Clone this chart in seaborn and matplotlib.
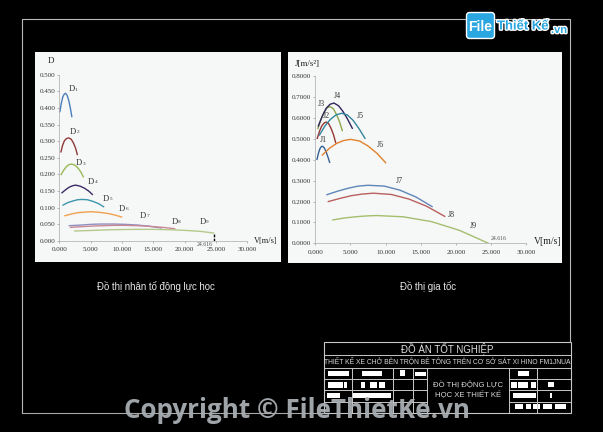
import pandas as pd
import matplotlib.pyplot as plt
import matplotlib.patheffects as pe
import seaborn as sns
from matplotlib.patches import Rectangle, FancyBboxPatch

W, H = 603, 432

# he so nhan to dong luc
d_names = ['D1', 'D2', 'D3', 'D4', 'D5', 'D6', 'D7', 'D8', 'D9']
d_v = [
    [0.10, 0.30, 0.55, 0.80, 1.00, 1.25, 1.50, 1.75, 2.00],
    [0.27, 0.50, 0.80, 1.15, 1.50, 1.90, 2.25, 2.60, 2.87],
    [0.30, 0.70, 1.15, 1.60, 2.00, 2.50, 3.00, 3.45, 3.83],
    [0.43, 1.00, 1.60, 2.10, 2.60, 3.30, 4.00, 4.70, 5.27],
    [0.60, 1.30, 2.10, 2.90, 3.60, 4.50, 5.40, 6.30, 7.07],
    [0.90, 1.90, 2.90, 4.10, 5.20, 6.50, 7.70, 8.90, 9.95],
    [1.60, 3.50, 5.00, 6.50, 8.50, 10.50, 12.50, 14.50, 16.30],
    [1.80, 3.50, 5.50, 8.60, 10.50, 12.50, 14.50, 16.50, 18.40],
    [2.45, 5.50, 8.50, 12.30, 15.00, 17.50, 20.00, 22.50, 24.62],
]
d_val = [
    [.389, .412, .433, .442, .444, .438, .423, .401, .374],
    [.268, .286, .301, .308, .310, .306, .295, .279, .260],
    [.200, .213, .224, .230, .231, .228, .219, .207, .193],
    [.145, .154, .162, .166, .168, .165, .159, .150, .140],
    [.108, .115, .120, .124, .125, .124, .119, .112, .103],
    [.076, .081, .085, .087, .088, .086, .083, .078, .072],
    [.046, .048, .050, .051, .051, .050, .048, .044, .039],
    [.041, .043, .045, .047, .047, .046, .044, .041, .037],
    [.030, .032, .034, .035, .035, .034, .032, .029, .024],
]
d_colors = ['#4A7EBB', '#8E3A38', '#98B954', '#3B2A66', '#3E96AC',
            '#F0A050', '#8F8FC0', '#C98A95', '#B5C98A']

# gia toc
j_names = ['J1', 'J2', 'J3', 'J4', 'J5', 'J6', 'J7', 'J8', 'J9']
j_v = [
    [0.24, 0.45, 0.65, 0.85, 1.04, 1.30, 1.55, 1.80, 2.04],
    [0.28, 0.60, 0.90, 1.25, 1.56, 1.90, 2.25, 2.60, 2.90],
    [0.38, 0.80, 1.25, 1.65, 2.09, 2.55, 3.00, 3.45, 3.84],
    [0.43, 1.00, 1.55, 2.10, 2.65, 3.30, 3.95, 4.60, 5.26],
    [0.60, 1.35, 2.15, 2.95, 3.74, 4.55, 5.35, 6.20, 7.06],
    [1.00, 2.00, 3.00, 4.00, 5.00, 6.30, 7.50, 8.80, 10.00],
    [1.66, 3.20, 4.70, 6.10, 7.50, 9.80, 12.00, 14.30, 16.60],
    [1.85, 3.50, 5.10, 6.70, 8.25, 10.80, 13.30, 15.80, 18.40],
    [2.50, 4.10, 5.70, 7.20, 8.70, 12.50, 16.50, 20.50, 24.62],
]
j_val = [
    [.402, .432, .453, .463, .465, .456, .437, .413, .388],
    [.503, .537, .561, .576, .581, .573, .550, .519, .482],
    [.550, .593, .628, .648, .655, .645, .618, .582, .540],
    [.562, .610, .647, .666, .672, .659, .631, .594, .551],
    [.519, .561, .594, .615, .623, .615, .590, .550, .503],
    [.423, .455, .478, .492, .498, .490, .466, .430, .386],
    [.233, .250, .264, .274, .278, .274, .255, .222, .176],
    [.200, .215, .228, .236, .240, .234, .212, .178, .129],
    [.112, .121, .127, .131, .133, .127, .104, .062, .000],
]
j_colors = ['#376092', '#943634', '#8CA64E', '#33265C', '#31859C',
            '#E0822E', '#5F86B8', '#B8605E', '#A5BE6E']

d_ticks = [0.0, 0.05, 0.1, 0.15, 0.2, 0.25, 0.3, 0.35, 0.4, 0.45, 0.5]
j_ticks = [0.0, 0.1, 0.2, 0.3, 0.4, 0.5, 0.6, 0.7, 0.8]
v_ticks = [0, 5, 10, 15, 20, 25, 30]

# nhan cua duong
d_labels = [(1.44, .456), (1.7, .329), (2.66, .235), (4.57, .178), (7.0, .127),
            (9.5, .097), (12.9, .076), (17.9, .058), (22.4, .058)]
d_subs = ['1', '2', '3', '4', '5', '6', '7', '8', '9']
j_labels = [(1.14, .497), (1.6, .612), (0.8, .669), (3.08, .707), (6.35, .612), (9.2, .473),
            (12.0, .297), (19.3, .137), (22.5, .081)]
j_texts = ['J1', 'J2', 'J3', 'J4', 'J5', 'J6', 'J7', 'J8', 'J9']

serif = 'Liberation Serif'
sans = 'Liberation Sans'


def make_long(names, vs, vals):
    rows = []
    for n, v, y in zip(names, vs, vals):
        rows.append(pd.DataFrame({'curve': n, 'V': v, 'value': y}))
    return pd.concat(rows, ignore_index=True)


def px_axes(fig, x0, x1, y_top, y_bot):
    return fig.add_axes([x0 / W, 1 - y_bot / H, (x1 - x0) / W, (y_bot - y_top) / H])


def style_axes(ax, yticks, yfmt, ymax):
    ax.set_xlim(0, 30)
    ax.set_ylim(0, ymax)
    ax.set_xticks(v_ticks)
    ax.set_xticklabels(['%.3f' % t for t in v_ticks])
    ax.set_yticks(yticks)
    ax.set_yticklabels([yfmt % t for t in yticks])
    ax.tick_params(labelsize=5, length=1.5, width=0.5, color='#999999',
                   labelcolor='#333333', pad=1.5)
    ax.tick_params(axis='x', pad=3)
    ax.set_xlabel('')
    ax.set_ylabel('')
    sns.despine(ax=ax)
    for s in ['left', 'bottom']:
        ax.spines[s].set_linewidth(0.5)
        ax.spines[s].set_color('#aaaaaa')
    ax.patch.set_alpha(0)
    for lab in ax.get_xticklabels() + ax.get_yticklabels():
        lab.set_family(serif)


plt.rcParams['font.family'] = [sans, 'DejaVu Sans']
fig = plt.figure(figsize=(W / 100, H / 100), dpi=100, facecolor='black')

# nen va khung ban ve
bg = fig.add_axes([0, 0, 1, 1])
bg.set_xlim(0, W)
bg.set_ylim(H, 0)
bg.axis('off')
bg.add_patch(Rectangle((35, 52), 246, 210, fc='#f6f7f7', ec='none'))
bg.add_patch(Rectangle((288, 52), 274, 211, fc='#f6f7f7', ec='none'))
bg.plot([22, 22, 570, 570], [413, 19, 19, 342], color='#b8b8b8', lw=0.8)
bg.plot([22, 323], [413, 413], color='#a8a8a8', lw=0.8)

# bieu do D
ax1 = px_axes(fig, 59.3, 247.3, 74.7, 241)
df_d = make_long(d_names, d_v, d_val)
sns.lineplot(data=df_d, x='V', y='value', hue='curve', palette=d_colors, estimator=None,
             sort=False, legend=False, lw=1.0, ax=ax1)
ax1.plot([24.62, 24.62], [0, 0.024], color='black', lw=1, ls=(0, (2, 1)))
style_axes(ax1, d_ticks, '%.3f', 0.5)
for (x, y), s in zip(d_labels, d_subs):
    ax1.text(x, y, 'D', fontsize=6.2, family=serif, color='#333333', va='center')
    ax1.text(x + 1.05, y - 0.002, s, fontsize=3.8, family=serif, color='#333333', va='center')
ax1.text(21.9, -0.011, '24.616', fontsize=4.2, color='#555555', family=serif, va='center')
bg.text(48, 61, 'D', fontsize=6.5, family=serif, color='#222222', ha='left', va='center')
bg.text(254, 240.5, 'V[m/s]', fontsize=6, family=serif, color='#222222', ha='left', va='center')

# bieu do J
ax2 = px_axes(fig, 315.3, 526.3, 76.3, 243.3)
df_j = make_long(j_names, j_v, j_val)
sns.lineplot(data=df_j, x='V', y='value', hue='curve', palette=j_colors, estimator=None,
             sort=False, legend=False, lw=1.0, ax=ax2)
style_axes(ax2, j_ticks, '%.4f', 0.8)
for (x, y), s in zip(j_labels, j_texts):
    ax2.text(x, y, s, fontsize=5.8, family=serif, color='#333333', va='center', ha='center')
ax2.text(24.9, 0.025, '24.616', fontsize=4.2, color='#555555', family=serif, va='center')
bg.text(295, 64, 'J[m/s²]', fontsize=6.5, family=serif, color='#222222', ha='left', va='center')
bg.text(534, 242, 'V[m/s]', fontsize=7, family=serif, color='#222222', ha='left', va='center')

# chu thich duoi
bg.text(156, 287, 'Đồ thị nhân tố động lực học', color='#e8e8e8', fontsize=6.9,
        ha='center', va='center')
bg.text(428, 287, 'Đồ thị gia tốc', color='#e8e8e8', fontsize=6.9, ha='center', va='center')

# khung ten
tb = '#c8c8c8'
bg.add_patch(Rectangle((323.5, 342), 247, 71, fc='none', ec=tb, lw=0.8))
for y in [355, 368]:
    bg.plot([323.5, 570.5], [y, y], color=tb, lw=0.7)
for y in [379, 390, 402]:
    bg.plot([323.5, 427], [y, y], color=tb, lw=0.7)
    bg.plot([509, 570.5], [y, y], color=tb, lw=0.7)
for x in [352, 393, 413, 427, 509, 537]:
    bg.plot([x, x], [368, 413], color=tb, lw=0.7)
blocks = [(328, 371, 21, 5), (362, 371, 20, 5), (400, 370, 5, 6), (415, 372, 11, 4), (518, 371, 11, 5),
          (328, 382, 15, 6), (344, 382, 3, 6), (361, 382, 4, 6), (370, 382, 7, 6), (379, 382, 6, 6),
          (511, 382, 6, 6), (518, 382, 10, 6), (531, 382, 5, 6), (548, 382, 6, 5),
          (327, 393, 13, 5), (352, 393, 39, 5), (513, 393, 23, 5), (550, 393, 2, 5),
          (515, 404, 8, 5), (526, 404, 5, 5), (533, 404, 7, 5), (543, 404, 9, 5), (555, 404, 11, 5)]
for b in blocks:
    bg.add_patch(Rectangle((b[0], b[1]), b[2], b[3], fc='white', ec='none'))
bg.text(447, 348.5, 'ĐỒ ÁN TỐT NGHIỆP', color='#e0e0e0', fontsize=7, ha='center', va='center')
bg.text(447, 361.5, 'THIẾT KẾ XE CHỞ BÊN TRỘN BÊ TÔNG TRÊN CƠ SỞ SÁT XI HINO FM1JNUA',
        color='#d8d8d8', fontsize=4.85, ha='center', va='center')
bg.text(468, 384.5, 'ĐỒ THỊ ĐỘNG LỰC', color='#d8d8d8', fontsize=5.6, ha='center', va='center')
bg.text(468, 394, 'HỌC XE THIẾT KẾ', color='#d8d8d8', fontsize=5.6, ha='center', va='center')

# watermark + logo
bg.text(124, 410, 'Copyright © FileThietKe.vn', color='#a9aeb3', fontsize=18.7,
        fontweight='bold', family='Open Sans', ha='left', va='center', alpha=0.95)
bg.add_patch(FancyBboxPatch((468, 14), 25, 23, boxstyle='round,pad=1.5,rounding_size=3',
                            fc='#2aa7e0', ec='white', lw=1, zorder=5))
halo = [pe.withStroke(linewidth=2, foreground='white')]
bg.text(480.5, 27, 'File', color='white', fontsize=10, fontweight='bold', ha='center', va='center', zorder=6)
bg.text(497, 26.5, 'Thiết Kế', color='#2aa7e0', fontsize=9.4, fontweight='bold', ha='left', va='center',
        path_effects=halo, zorder=6)
bg.text(551, 30, '.vn', color='#2aa7e0', fontsize=8, fontweight='bold', ha='left', va='center',
        path_effects=halo, zorder=6)

plt.savefig('out.png', dpi=100, facecolor='black')
